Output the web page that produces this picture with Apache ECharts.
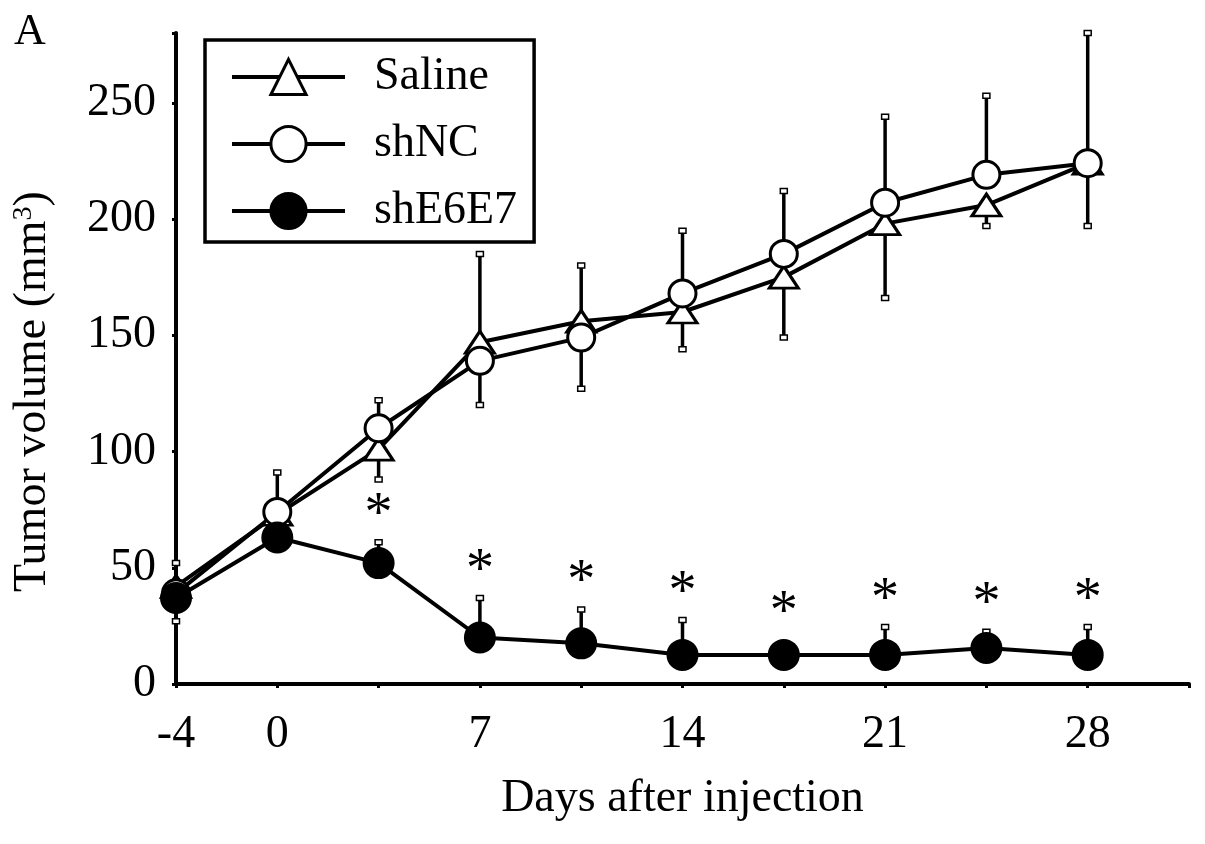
<!DOCTYPE html>
<html>
<head>
    <meta charset="UTF-8">
    <title>Tumor volume</title>
    <script src="https://cdn.jsdelivr.net/npm/echarts@6/dist/echarts.min.js"></script>
</head>
<body style="margin:0;background:#fff;">
<div id="chart" style="width:1205px; height:844px;"></div>
<script>
    // 天数（每3.5天一个测量点，最后一个空位用来延长坐标轴）
    var days = ['-4', '0', '3.5', '7', '10.5', '14', '17.5', '21', '24.5', '28', ''];
    var dayLabels = ['-4', '0', '7', '14', '21', '28'];

    var saline = [42, 73, 101, 147, 156, 160, 175, 198, 206, 224];
    var shNC = [39, 74, 110, 139, 149, 168, 185, 207, 219, 224];
    var shE6E7 = [37, 63, 52, 20, 17.5, 12.5, 12.5, 12.5, 15.5, 12.5];

    // 误差线（图上只画出了一侧）
    var salineUp = [10, 0, 0, 38, 24, 0, 0, 0, 0, 0];
    var salineDown = [0, 0, 13, 0, 0, 16, 26, 32, 9, 0];
    var shNCUp = [0, 17, 12, 0, 0, 27, 27, 37, 34, 56];
    var shNCDown = [0, 0, 0, 19, 22, 0, 0, 0, 0, 27];
    var shE6E7Up = [0, 0, 9, 17, 14.5, 15, 0, 12, 7, 12];
    var shE6E7Down = [10, 0, 0, 0, 0, 0, 0, 0, 0, 0];

    var sig = ['', '', '*', '*', '*', '*', '*', '*', '*', '*'];

    var font = '"Liberation Serif", "Times New Roman", serif';

    var chart = echarts.init(document.getElementById('chart'), null, {renderer: 'canvas'});

    function errData(mean, up, down) {
        return mean.map(function (v, i) {
            return [i, v, up[i], down[i]];
        });
    }

    function renderErr(params, api) {
        var x = api.value(0), m = api.value(1);
        var children = [];
        [[api.value(2), 1], [api.value(3), -1]].forEach(function (e) {
            if (!e[0]) return;
            var p0 = api.coord([x, m]);
            var p1 = api.coord([x, m + e[1] * e[0]]);
            children.push({
                type: 'line',
                shape: {x1: p0[0], y1: p0[1], x2: p1[0], y2: p1[1]},
                style: {stroke: '#000', lineWidth: 3.5}
            });
            children.push({
                type: 'rect',
                shape: {x: p1[0] - 3.5, y: p1[1] - 2.5, width: 7, height: 5},
                style: {fill: '#fff', stroke: '#000', lineWidth: 1.5}
            });
        });
        return {type: 'group', children: children};
    }

    function errSeries(name, mean, up, down) {
        return {
            name: name,
            type: 'custom',
            renderItem: renderErr,
            data: errData(mean, up, down),
            z: 1,
            silent: true
        };
    }

    function lineSeries(name, data, symbol, size, fill) {
        return {
            name: name,
            type: 'line',
            data: data,
            symbol: symbol,
            symbolSize: size,
            showAllSymbol: true,
            z: 3,
            lineStyle: {color: '#000', width: 4},
            itemStyle: {color: fill, borderColor: '#000', borderWidth: 3, opacity: 1}
        };
    }

    var option = {
        backgroundColor: '#fff',
        animation: false,
        graphic: [{
            type: 'text',
            left: 14,
            top: 10,
            style: {text: 'A', fontSize: 44, fontFamily: font, fill: '#000'}
        }],
        legend: {
            orient: 'vertical',
            left: 205,
            top: 40,
            padding: [14, 17, 8, 25],
            itemGap: 21,
            itemWidth: 113,
            itemHeight: 44,
            borderColor: '#000',
            borderWidth: 3.5,
            data: ['Saline', 'shNC', 'shE6E7'],
            itemStyle: {borderWidth: 3},
            lineStyle: {width: 4, color: '#000'},
            textStyle: {
                fontSize: 46,
                fontFamily: font,
                color: '#000',
                padding: [0, 0, 0, 24]
            }
        },
        grid: {
            left: 176,
            right: 16,
            top: 33,
            bottom: 160
        },
        xAxis: {
            type: 'category',
            data: days,
            boundaryGap: false,
            name: 'Days after injection',
            nameLocation: 'middle',
            nameGap: 92,
            nameTextStyle: {fontSize: 46, fontFamily: font, color: '#000'},
            axisLine: {lineStyle: {color: '#000', width: 4}},
            axisTick: {show: true, length: 4, interval: 0, lineStyle: {color: '#000', width: 3}},
            axisLabel: {
                interval: 0,
                margin: 28,
                fontSize: 46,
                fontFamily: font,
                color: '#000',
                formatter: function (v) {
                    return dayLabels.indexOf(v) > -1 ? v : '';
                }
            },
            splitLine: {show: false}
        },
        yAxis: {
            type: 'value',
            min: 0,
            max: 280,
            interval: 50,
            name: 'Tumor volume (mm{sup|3})',
            nameLocation: 'middle',
            nameGap: 120,
            nameTextStyle: {
                fontSize: 46,
                fontFamily: font,
                color: '#000',
                padding: [0, 66, 0, 0],
                rich: {
                    sup: {fontSize: 28, fontFamily: font, color: '#000', verticalAlign: 'top', lineHeight: 30}
                }
            },
            axisLine: {show: true, lineStyle: {color: '#000', width: 4}},
            axisTick: {show: true, length: 4, lineStyle: {color: '#000', width: 3}},
            axisLabel: {
                margin: 20,
                fontSize: 46,
                fontFamily: font,
                color: '#000',
                formatter: function (v) {
                    return v % 50 === 0 ? v : '';
                }
            },
            splitLine: {show: false}
        },
        series: [
            errSeries('err-saline', saline, salineUp, salineDown),
            errSeries('err-shNC', shNC, shNCUp, shNCDown),
            errSeries('err-shE6E7', shE6E7, shE6E7Up, shE6E7Down),
            lineSeries('Saline', saline, 'triangle', [29, 22], '#fff'),
            lineSeries('shNC', shNC, 'circle', 27, '#fff'),
            lineSeries('shE6E7', shE6E7, 'circle', 29, '#000'),
            {
                name: 'sig',
                type: 'custom',
                silent: true,
                z: 4,
                data: errData(shE6E7, shE6E7Up, shE6E7Down),
                renderItem: function (params, api) {
                    var s = sig[params.dataIndex];
                    if (!s) return null;
                    var x = api.value(0), m = api.value(1), up = api.value(2);
                    var cap = api.coord([x, m + up]);
                    var pt = api.coord([x, m]);
                    var y = Math.min(cap[1], pt[1] - 15) - 26;
                    return {
                        type: 'text',
                        x: pt[0],
                        y: y,
                        style: {
                            text: s,
                            fontSize: 56,
                            fontFamily: font,
                            fill: '#000',
                            align: 'center',
                            verticalAlign: 'middle'
                        }
                    };
                }
            }
        ]
    };

    chart.setOption(option);
</script>
</body>
</html>
